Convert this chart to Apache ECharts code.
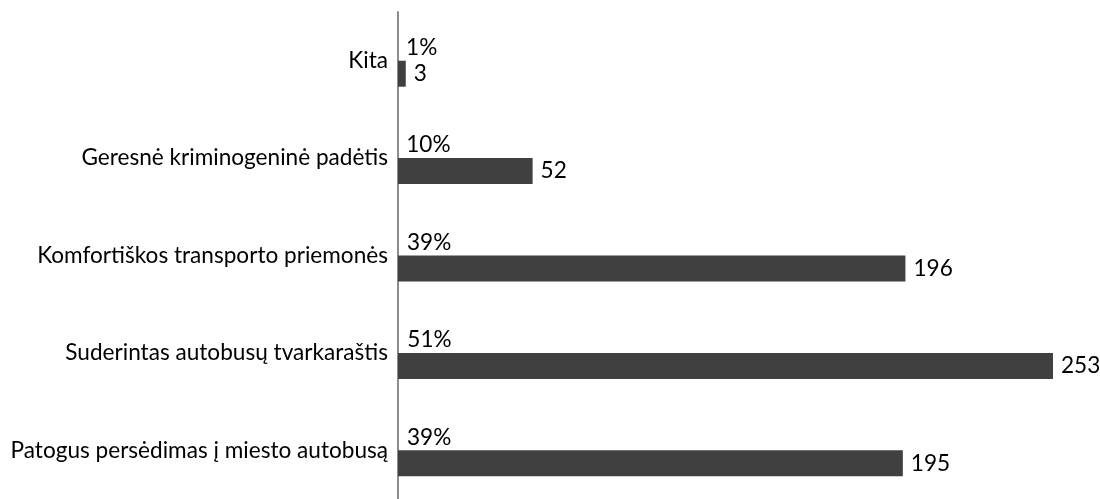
<!DOCTYPE html>
<html>
<head>
<meta charset="utf-8">
<script src="https://cdn.jsdelivr.net/npm/echarts@6/dist/echarts.min.js"></script>
<style>
  html, body { margin: 0; padding: 0; background: #fff; }
  #chart { width: 1100px; height: 499px; }
</style>
</head>
<body>
<div id="chart"></div>
<script>
// bottom to top, as on the y axis
var categories = [
    'Patogus persėdimas į miesto autobusą',
    'Suderintas autobusų tvarkaraštis',
    'Komfortiškos transporto priemonės',
    'Geresnė kriminogeninė padėtis',
    'Kita'
];
var counts = [195, 253, 196, 52, 3];
var shares = [0.39, 0.51, 0.39, 0.10, 0.01];

var dom = document.getElementById('chart');
var myChart = echarts.init(dom);

var option = {
    animation: false,
    textStyle: { fontFamily: 'Lato' },
    grid: { left: 398, right: 3, top: 12, bottom: -5, containLabel: false },
    xAxis: {
        type: 'value',
        min: 0,
        max: 270,
        show: false
    },
    yAxis: {
        type: 'category',
        data: categories,
        axisLine: { show: true, lineStyle: { color: '#8c8c8c', width: 2 } },
        axisTick: { show: false },
        axisLabel: { color: '#000', fontSize: 22.6, margin: 10 }
    },
    series: [
        {
            name: 'share',
            type: 'bar',
            data: shares,
            barWidth: 26,
            barGap: '0%',
            itemStyle: { color: 'rgba(0,0,0,0)' },
            label: {
                show: true,
                position: 'right',
                distance: 8,
                color: '#000',
                fontSize: 22.6,
                formatter: function (p) { return Math.round(p.value * 100) + '%'; }
            }
        },
        {
            name: 'count',
            type: 'bar',
            data: counts,
            barWidth: 26,
            barGap: '0%',
            itemStyle: { color: '#404040' },
            label: {
                show: true,
                position: 'right',
                distance: 8,
                color: '#000',
                fontSize: 22.6
            }
        }
    ]
};

myChart.setOption(option);
</script>
</body>
</html>
